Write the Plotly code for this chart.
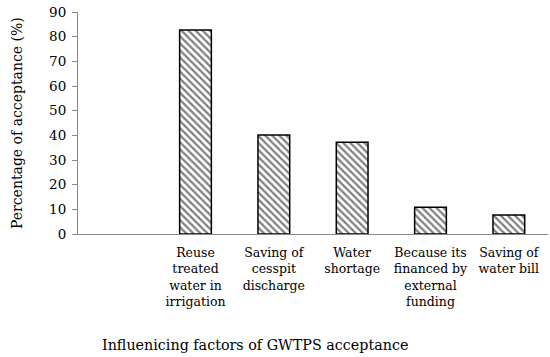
import plotly.graph_objects as go

categories = [
    "Reuse<br>treated<br>water in<br>irrigation",
    "Saving of<br>cesspit<br>discharge",
    "Water<br>shortage",
    "Because its<br>financed by<br>external<br>funding",
    "Saving of<br>water bill",
]
values = [82.7, 40.1, 37.2, 10.8, 7.7]
y_ticks = [0, 10, 20, 30, 40, 50, 60, 70, 80, 90]
x_title = "Influenicing factors of GWTPS acceptance"
y_title = "Percentage of acceptance (%)"

FONT = "DejaVu Serif"
W, H = 550, 357
L, R, T, B = 78, 2, 12, 123
PW, PH = W - L - R, H - T - B

fig = go.Figure()
fig.add_trace(go.Bar(
    x=categories,
    y=values,
    width=0.405,
    marker=dict(
        color="white",
        line=dict(color="black", width=1.5),
        pattern=dict(shape="\\", size=5, solidity=0.45, fgcolor="black", bgcolor="white"),
    ),
))

fig.update_layout(
    width=W, height=H,
    margin=dict(l=L, r=R, t=T, b=B, pad=0, autoexpand=False),
    paper_bgcolor="white", plot_bgcolor="white",
    showlegend=False,
    font=dict(family=FONT, size=13, color="black"),
    xaxis=dict(
        type="category",
        categoryorder="array",
        categoryarray=[" "] + categories,
        range=[-0.5, len(categories) + 0.5],
        automargin=False,
        showline=True, linecolor="#888888", linewidth=1,
        ticks="", showgrid=False, zeroline=False,
        tickfont=dict(family=FONT, size=12.5),
        ticklabelstandoff=7,
    ),
    yaxis=dict(
        range=[0, 90],
        tickvals=y_ticks,
        automargin=False,
        showline=True, linecolor="#888888", linewidth=1,
        ticks="outside", ticklen=5, tickcolor="#888888",
        showgrid=False, zeroline=False,
        tickfont=dict(family=FONT, size=13.5),
        ticklabelstandoff=3,
    ),
    annotations=[
        dict(text=x_title, xref="paper", yref="paper",
             x=(100 - L) / PW, y=(T + PH - 345) / PH,
             xanchor="left", yanchor="middle", showarrow=False,
             font=dict(family=FONT, size=14.3)),
        dict(text=y_title, xref="paper", yref="paper",
             x=(17 - L) / PW, y=0.5, textangle=-90,
             xanchor="center", yanchor="middle", showarrow=False,
             font=dict(family=FONT, size=14)),
    ],
)

fig.write_html(
    "out.html",
    config={"displayModeBar": False},
    post_script="document.body.style.margin='0';document.body.style.padding='0';",
)
